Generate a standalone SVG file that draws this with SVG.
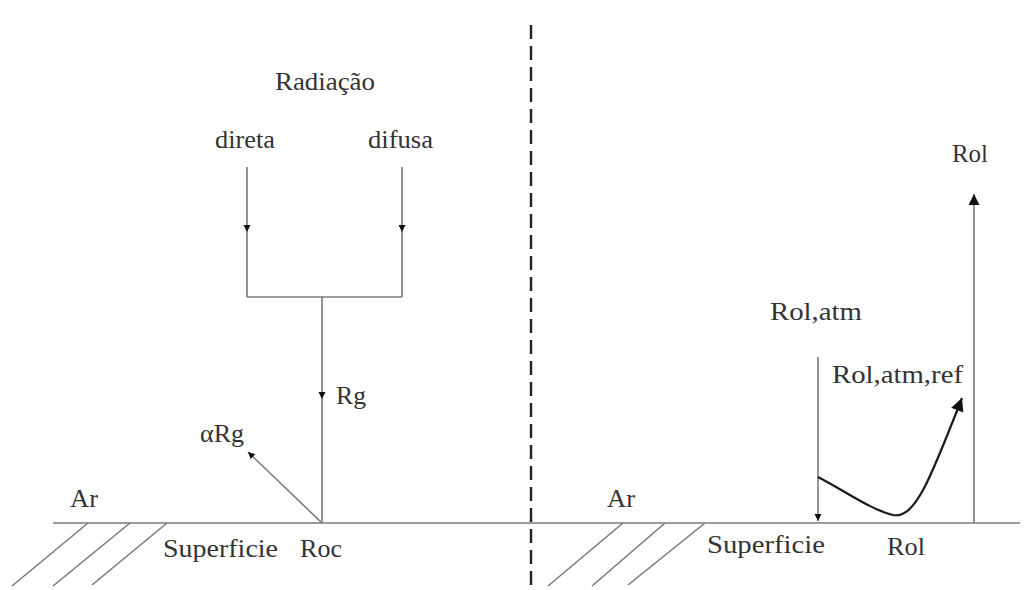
<svg xmlns="http://www.w3.org/2000/svg" width="1024" height="590" viewBox="0 0 1024 590">
  <style>
    .bg { fill: #ffffff; }
    .ln { stroke: #7a7a7a; stroke-width: 1.6; fill: none; }
    .bold { stroke: #1a1a1a; stroke-width: 2.2; fill: none; }
    .dash { stroke: #222222; stroke-width: 2.4; stroke-dasharray: 14 7; fill: none; }
    .lbl { font-family: "Liberation Serif", "Times New Roman", serif; font-size: 26px; fill: #333333; }
  </style>
  <defs>
    <marker id="tri" viewBox="0 0 10 10" refX="10" refY="5" markerUnits="userSpaceOnUse" markerWidth="7" markerHeight="11" orient="auto">
      <path d="M0,0 L10,5 L0,10 z" fill="#111111"/>
    </marker>
    <marker id="triBig" viewBox="0 0 10 10" refX="10" refY="5" markerUnits="userSpaceOnUse" markerWidth="11" markerHeight="11" orient="auto">
      <path d="M0,0 L10,5 L0,10 z" fill="#111111"/>
    </marker>
    <marker id="triCurve" viewBox="0 0 10 10" refX="10" refY="5" markerUnits="userSpaceOnUse" markerWidth="15" markerHeight="13" orient="auto">
      <path d="M0,0 L10,5 L0,10 z" fill="#111111"/>
    </marker>
  </defs>

  <rect class="bg" x="0" y="0" width="1024" height="590"/>

  <!-- divider between the two panels -->
  <g id="divider">
    <line class="dash" x1="531" y1="25" x2="531" y2="585"/>
  </g>

  <!-- ground surface with hatching -->
  <g id="ground">
    <line class="ln" x1="53" y1="523" x2="1020" y2="523"/>
    <line class="ln" x1="88" y1="523" x2="12" y2="586"/>
    <line class="ln" x1="130" y1="523" x2="53" y2="586"/>
    <line class="ln" x1="167" y1="523" x2="92" y2="585"/>
    <line class="ln" x1="623" y1="523" x2="548" y2="586"/>
    <line class="ln" x1="665" y1="523" x2="592" y2="586"/>
    <line class="ln" x1="705" y1="523" x2="628" y2="585"/>
  </g>

  <!-- short-wave connectors -->
  <g id="connectors">
    <line class="ln" x1="247" y1="167" x2="247" y2="232" marker-end="url(#tri)"/>
    <line class="ln" x1="247" y1="232" x2="247" y2="297"/>
    <line class="ln" x1="402" y1="167" x2="402" y2="232" marker-end="url(#tri)"/>
    <line class="ln" x1="402" y1="232" x2="402" y2="297"/>
    <line class="ln" x1="247" y1="297" x2="402" y2="297"/>
    <line class="ln" x1="322" y1="297" x2="322" y2="399" marker-end="url(#tri)"/>
    <line class="ln" x1="322" y1="399" x2="322" y2="523"/>
    <line class="ln" x1="322" y1="523" x2="248" y2="452" marker-end="url(#tri)"/>

    <!-- long-wave connectors -->
    <line class="ln" x1="818" y1="357" x2="818" y2="521" marker-end="url(#tri)"/>
    <path class="bold" d="M818,477 C850,494 872,510 893,515 C915,519 930,480 962,398" marker-end="url(#triCurve)"/>
    <line class="ln" x1="974" y1="523" x2="974" y2="194" marker-end="url(#triBig)"/>
  </g>

  <!-- labels, left panel -->
  <g id="radiacao"><text class="lbl" x="275" y="90" textLength="100" lengthAdjust="spacingAndGlyphs">Radiação</text></g>
  <g id="direta"><text class="lbl" x="215" y="148" textLength="60" lengthAdjust="spacingAndGlyphs">direta</text></g>
  <g id="difusa"><text class="lbl" x="368" y="148" textLength="65" lengthAdjust="spacingAndGlyphs">difusa</text></g>
  <g id="rg"><text class="lbl" x="336" y="404" textLength="30" lengthAdjust="spacingAndGlyphs">Rg</text></g>
  <g id="alpha-rg"><text class="lbl" x="200" y="442" textLength="44" lengthAdjust="spacingAndGlyphs">αRg</text></g>
  <g id="ar-left"><text class="lbl" x="70" y="507" textLength="28" lengthAdjust="spacingAndGlyphs">Ar</text></g>
  <g id="superficie-left"><text class="lbl" x="163" y="557" textLength="115" lengthAdjust="spacingAndGlyphs">Superficie</text></g>
  <g id="roc"><text class="lbl" x="300" y="557" textLength="42" lengthAdjust="spacingAndGlyphs">Roc</text></g>

  <!-- labels, right panel -->
  <g id="rol-top"><text class="lbl" x="952" y="162" textLength="36" lengthAdjust="spacingAndGlyphs">Rol</text></g>
  <g id="rol-atm"><text class="lbl" x="770" y="320" textLength="92" lengthAdjust="spacingAndGlyphs">Rol,atm</text></g>
  <g id="rol-atm-ref"><text class="lbl" x="832" y="383" textLength="131" lengthAdjust="spacingAndGlyphs">Rol,atm,ref</text></g>
  <g id="ar-right"><text class="lbl" x="607" y="507" textLength="28" lengthAdjust="spacingAndGlyphs">Ar</text></g>
  <g id="superficie-right"><text class="lbl" x="707" y="553" textLength="118" lengthAdjust="spacingAndGlyphs">Superficie</text></g>
  <g id="rol-bottom"><text class="lbl" x="887" y="555" textLength="38" lengthAdjust="spacingAndGlyphs">Rol</text></g>
</svg>
